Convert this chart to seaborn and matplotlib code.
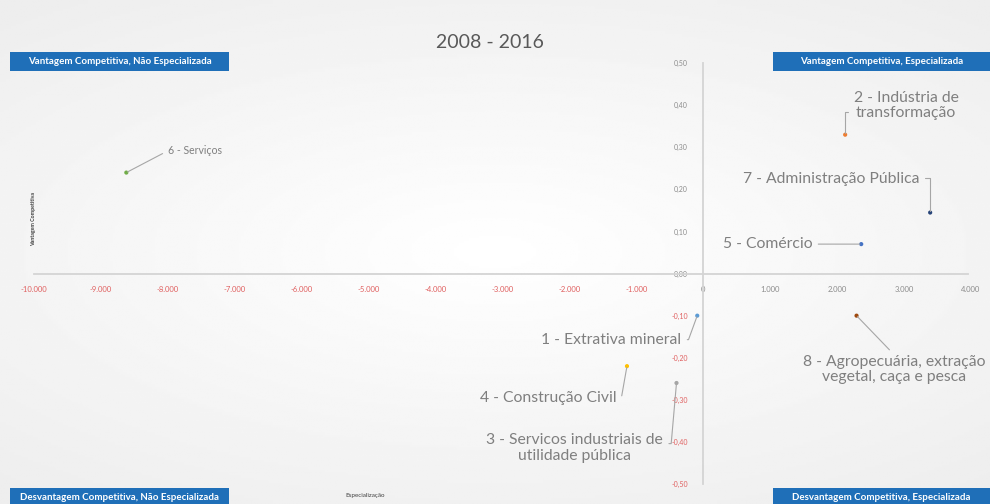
import numpy as np
import pandas as pd
import matplotlib
matplotlib.use("Agg")
import matplotlib.pyplot as plt
from matplotlib.patches import Rectangle
import seaborn as sns

# ---- data ----
sectors = [
    "1 - Extrativa mineral",
    "2 - Indústria de\ntransformação",
    "3 - Servicos industriais de\nutilidade pública",
    "4 - Construção Civil",
    "5 - Comércio",
    "6 - Serviços",
    "7 - Administração Pública",
    "8 - Agropecuária, extração\nvegetal, caça e pesca",
]
especializacao = [-90, 2120, -400, -1140, 2360, -8620, 3390, 2290]
vantagem = [-0.10, 0.33, -0.26, -0.22, 0.07, 0.24, 0.145, -0.10]
x_ticks = [-10000, -9000, -8000, -7000, -6000, -5000, -4000, -3000, -2000, -1000, 0, 1000, 2000, 3000, 4000]
x_ticklabels = ["-10.000", "-9.000", "-8.000", "-7.000", "-6.000", "-5.000", "-4.000", "-3.000",
                "-2.000", "-1.000", "0", "1.000", "2.000", "3.000", "4.000"]
y_ticks = [0.5, 0.4, 0.3, 0.2, 0.1, 0.0, -0.1, -0.2, -0.3, -0.4, -0.5]
y_ticklabels = ["0,50", "0,40", "0,30", "0,20", "0,10", "0,00", "-0,10", "-0,20", "-0,30", "-0,40", "-0,50"]
title = "2008 - 2016"
quadrants = ["Vantagem Competitiva, Não Especializada", "Vantagem Competitiva, Especializada",
             "Desvantagem Competitiva, Não Especializada", "Desvantagem Competitiva, Especializada"]

palette = ["#5b9bd5", "#ed7d31", "#a5a5a5", "#ffc000", "#4472c4", "#70ad47", "#264478", "#9e480e"]

df = pd.DataFrame({"setor": sectors, "esp": especializacao, "vant": vantagem})

sns.set_theme(style="white")
plt.rcParams["font.family"] = ["Lato", "DejaVu Sans"]

fig = plt.figure(figsize=(9.9, 5.04), dpi=100)

# subtle background vignette
bg = fig.add_axes([0, 0, 1, 1], zorder=-10)
yy, xx = np.mgrid[-1:1:200j, -1:1:400j]
r = np.sqrt((xx * 0.9) ** 2 + (yy * 1.1) ** 2)
bg.imshow(1 - 0.05 * np.clip(r, 0, 1.4), cmap="gray", vmin=0, vmax=1, aspect="auto", extent=[0, 1, 0, 1])
bg.axis("off")

ax = fig.add_axes([0.0343, 0.0397, 0.9465, 0.835])
ax.patch.set_alpha(0)

sns.scatterplot(data=df, x="esp", y="vant", hue="setor", palette=palette, s=9,
                edgecolor="none", legend=False, ax=ax, zorder=5)

ax.set_xlim(-10000, 4000)
ax.set_ylim(-0.5, 0.5)

for s in ["top", "right"]:
    ax.spines[s].set_visible(False)
ax.spines["left"].set_position(("data", 0))
ax.spines["bottom"].set_position(("data", 0))
for s in ["left", "bottom"]:
    ax.spines[s].set_color("#d4d4d4")
    ax.spines[s].set_linewidth(1.3)
ax.spines["bottom"].set_bounds(-10000, 3950)

ax.set_xticks(x_ticks)
ax.set_xticklabels(x_ticklabels)
ax.set_yticks(y_ticks)
ax.set_yticklabels(y_ticklabels)
ax.tick_params(axis="x", length=0, pad=9, labelsize=5.5)
ax.tick_params(axis="y", length=0, pad=11, labelsize=5)
for v, t in zip(x_ticks, ax.get_xticklabels()):
    t.set_color("#e06060" if v < 0 else "#8c8c8c")
for v, t in zip(y_ticks, ax.get_yticklabels()):
    t.set_color("#e06060" if v < 0 else "#8c8c8c")
ax.set_xlabel("")
ax.set_ylabel("")

# annotations (offsets in pixels -> points)
px = 0.72
ann = [
    # dx, dy, ha, relpos, connection, fontsize
    (-16, -24, "right", (1, 0.5), "angle,angleA=0,angleB=70,rad=0", 11.3),
    (61, 29, "center", (0, 0.28), "angle,angleA=0,angleB=90,rad=0", 11.3),
    (-102, -65, "center", (1, 0.65), "angle,angleA=0,angleB=85,rad=0", 11.3),
    (-10, -32, "right", (1, 0.5), "angle,angleA=0,angleB=80,rad=0", 11.3),
    (-49, 0, "right", (1, 0.5), "arc3", 11.3),
    (42, 22, "left", (0, 0.5), "arc3", 7.6),
    (-11, 34, "right", (1, 0.55), "angle,angleA=0,angleB=90,rad=0", 11.3),
    (38, -54, "center", (0.5, 1), "arc3", 11.3),
]
for (lab, xv, yv), (dx, dy, ha, rp, cs, fs) in zip(zip(sectors, especializacao, vantagem), ann):
    ax.annotate(lab, xy=(xv, yv), xytext=(dx * px, dy * px), textcoords="offset points",
                ha=ha, va="center", fontsize=fs, color="#7f7f7f", linespacing=1.1,
                arrowprops=dict(arrowstyle="-", color="#a6a6a6", lw=0.8, relpos=rp,
                                connectionstyle=cs, shrinkA=2, shrinkB=1), zorder=6)

fig.text(0.495, 0.916, title, ha="center", va="center", fontsize=14, color="#595959")

fig.text(0.034, 0.565, "Vantagem Competitiva", rotation=90, ha="center", va="center",
         fontsize=3.8, color="#404040", fontweight="bold")
fig.text(0.369, 0.016, "Especialização", ha="center", va="center", fontsize=4.5, color="#404040")

box_color = "#1f6fb8"
boxes = [
    (10, 52, 219, 19),
    (773, 52, 217, 19),
    (10, 488, 219, 18),
    (773, 488, 217, 18),
]
W, H = 990, 504
for (bx, by, bw, bh), q in zip(boxes, quadrants):
    fig.patches.append(Rectangle((bx / W, 1 - (by + bh) / H), bw / W, bh / H,
                                 transform=fig.transFigure, facecolor=box_color,
                                 edgecolor="none", zorder=3))
    fig.text((bx + bw / 2) / W, 1 - (by + min(bh, 16) / 2 + 1) / H, q, ha="center", va="center",
             fontsize=7, color="white", fontweight="bold", zorder=4)

fig.savefig("out.png", dpi=100)
